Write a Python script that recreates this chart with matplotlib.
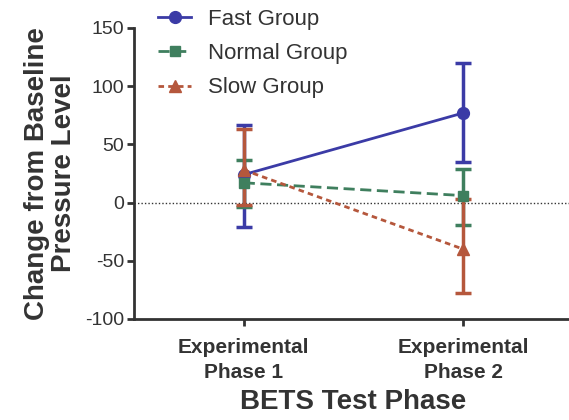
import matplotlib
matplotlib.use("Agg")
import matplotlib.pyplot as plt

# data
phases = ["Experimental\nPhase 1", "Experimental\nPhase 2"]
fast_mean = [24, 77]
fast_lo = [-21, 35]
fast_hi = [67, 120]
normal_mean = [17, 6]
normal_lo = [-4, -19]
normal_hi = [37, 29]
slow_mean = [28, -40]
slow_lo = [-2, -78]
slow_hi = [63, 3]

plt.rcParams['font.family'] = ['Liberation Sans', 'DejaVu Sans']
plt.rcParams['axes.unicode_minus'] = False

fig = plt.figure(figsize=(5.69, 4.2), dpi=100)
ax = fig.add_axes([0.2355, 0.2405, 0.7715, 0.6929])

x = list(range(len(phases)))
groups = [
    ("Fast Group", fast_mean, fast_lo, fast_hi, "#3b3ba6", "-", "o", 8.5),
    ("Normal Group", normal_mean, normal_lo, normal_hi, "#3f7f5e", (0, (4, 2)), "s", 7),
    ("Slow Group", slow_mean, slow_lo, slow_hi, "#b5573c", (0, (2, 1.5)), "^", 8),
]

ax.axhline(0, color="#333333", lw=1, ls=(0, (1, 1.5)), zorder=1)

handles = []
for name, m, lo, hi, col, ls, mk, ms in groups:
    err = [[mi - l for mi, l in zip(m, lo)], [h - mi for mi, h in zip(m, hi)]]
    ax.errorbar(x, m, yerr=err, fmt="none", ecolor=col, elinewidth=2.5,
                capsize=6, capthick=2.5, zorder=3)
    h, = ax.plot(x, m, color=col, ls=ls, lw=2, marker=mk, ms=ms, zorder=4, label=name)
    handles.append(h)

ax.set_xlim(-0.5, 1.5)
ax.set_ylim(-100, 150)
ax.set_yticks([-100, -50, 0, 50, 100, 150])
ax.set_xticks(x)
ax.set_xticklabels(phases, fontsize=15, fontweight="bold", color="#333333",
                   linespacing=1.35)
for lab in ax.get_yticklabels():
    lab.set_fontsize(14)
    lab.set_color("#333333")

for s in ["top", "right"]:
    ax.spines[s].set_visible(False)
for s in ["left", "bottom"]:
    ax.spines[s].set_linewidth(2)
    ax.spines[s].set_color("#333333")
ax.tick_params(axis="both", width=2, length=5, color="#333333", pad=2)
ax.tick_params(axis="x", pad=9)

ax.set_ylabel("Change from Baseline\nPressure Level", fontsize=20, fontweight="bold",
              color="#333333", labelpad=6, linespacing=1.05)
ax.set_xlabel("BETS Test Phase", fontsize=20, fontweight="bold", color="#333333", labelpad=5)

fig.legend(handles=handles, loc="upper left", bbox_to_anchor=(0.2425, 1.027),
           frameon=False, fontsize=16, handlelength=1.5, labelspacing=0.6,
           handletextpad=0.75, labelcolor="#333333")

fig.savefig("out.png", dpi=100)
